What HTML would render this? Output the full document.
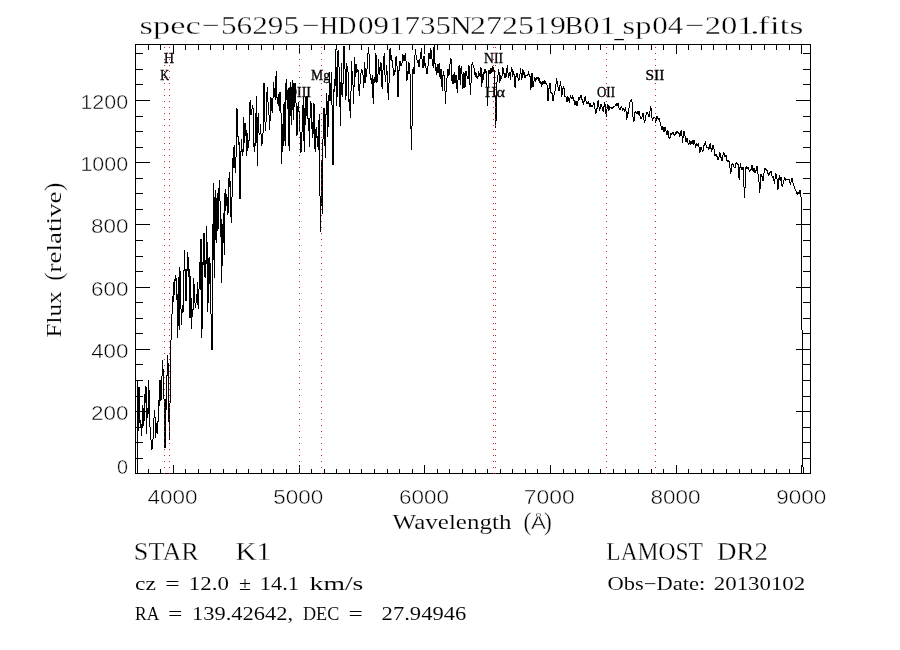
<!DOCTYPE html>
<html><head><meta charset="utf-8"><title>spec-56295-HD091735N272519B01_sp04-201.fits</title>
<style>html,body{margin:0;padding:0;background:#fff;}body{width:900px;height:650px;overflow:hidden;}svg{display:block;}text{font-family:"Liberation Serif",serif;fill:#000;stroke:#fff;stroke-width:0;paint-order:fill stroke;}.sans{font-family:"Liberation Sans",sans-serif;}</style></head><body>
<svg width="900" height="650" viewBox="0 0 900 650">
<rect x="0" y="0" width="900" height="650" fill="#fff"/>
<g fill="#000" shape-rendering="crispEdges">
<rect x="135" y="44" width="676" height="1"/>
<rect x="135" y="473" width="676" height="1"/>
<rect x="135" y="44" width="1" height="430"/>
<rect x="810" y="44" width="1" height="430"/>
<rect x="148" y="44" width="1" height="6"/>
<rect x="148" y="469" width="1" height="5"/>
<rect x="160" y="44" width="1" height="6"/>
<rect x="160" y="469" width="1" height="5"/>
<rect x="173" y="44" width="1" height="10"/>
<rect x="173" y="465" width="1" height="9"/>
<rect x="185" y="44" width="1" height="6"/>
<rect x="185" y="469" width="1" height="5"/>
<rect x="198" y="44" width="1" height="6"/>
<rect x="198" y="469" width="1" height="5"/>
<rect x="210" y="44" width="1" height="6"/>
<rect x="210" y="469" width="1" height="5"/>
<rect x="223" y="44" width="1" height="6"/>
<rect x="223" y="469" width="1" height="5"/>
<rect x="236" y="44" width="1" height="6"/>
<rect x="236" y="469" width="1" height="5"/>
<rect x="248" y="44" width="1" height="6"/>
<rect x="248" y="469" width="1" height="5"/>
<rect x="261" y="44" width="1" height="6"/>
<rect x="261" y="469" width="1" height="5"/>
<rect x="273" y="44" width="1" height="6"/>
<rect x="273" y="469" width="1" height="5"/>
<rect x="286" y="44" width="1" height="6"/>
<rect x="286" y="469" width="1" height="5"/>
<rect x="299" y="44" width="1" height="10"/>
<rect x="299" y="465" width="1" height="9"/>
<rect x="311" y="44" width="1" height="6"/>
<rect x="311" y="469" width="1" height="5"/>
<rect x="324" y="44" width="1" height="6"/>
<rect x="324" y="469" width="1" height="5"/>
<rect x="336" y="44" width="1" height="6"/>
<rect x="336" y="469" width="1" height="5"/>
<rect x="349" y="44" width="1" height="6"/>
<rect x="349" y="469" width="1" height="5"/>
<rect x="361" y="44" width="1" height="6"/>
<rect x="361" y="469" width="1" height="5"/>
<rect x="374" y="44" width="1" height="6"/>
<rect x="374" y="469" width="1" height="5"/>
<rect x="387" y="44" width="1" height="6"/>
<rect x="387" y="469" width="1" height="5"/>
<rect x="399" y="44" width="1" height="6"/>
<rect x="399" y="469" width="1" height="5"/>
<rect x="412" y="44" width="1" height="6"/>
<rect x="412" y="469" width="1" height="5"/>
<rect x="424" y="44" width="1" height="10"/>
<rect x="424" y="465" width="1" height="9"/>
<rect x="437" y="44" width="1" height="6"/>
<rect x="437" y="469" width="1" height="5"/>
<rect x="449" y="44" width="1" height="6"/>
<rect x="449" y="469" width="1" height="5"/>
<rect x="462" y="44" width="1" height="6"/>
<rect x="462" y="469" width="1" height="5"/>
<rect x="475" y="44" width="1" height="6"/>
<rect x="475" y="469" width="1" height="5"/>
<rect x="487" y="44" width="1" height="6"/>
<rect x="487" y="469" width="1" height="5"/>
<rect x="500" y="44" width="1" height="6"/>
<rect x="500" y="469" width="1" height="5"/>
<rect x="512" y="44" width="1" height="6"/>
<rect x="512" y="469" width="1" height="5"/>
<rect x="525" y="44" width="1" height="6"/>
<rect x="525" y="469" width="1" height="5"/>
<rect x="537" y="44" width="1" height="6"/>
<rect x="537" y="469" width="1" height="5"/>
<rect x="550" y="44" width="1" height="10"/>
<rect x="550" y="465" width="1" height="9"/>
<rect x="563" y="44" width="1" height="6"/>
<rect x="563" y="469" width="1" height="5"/>
<rect x="575" y="44" width="1" height="6"/>
<rect x="575" y="469" width="1" height="5"/>
<rect x="588" y="44" width="1" height="6"/>
<rect x="588" y="469" width="1" height="5"/>
<rect x="600" y="44" width="1" height="6"/>
<rect x="600" y="469" width="1" height="5"/>
<rect x="613" y="44" width="1" height="6"/>
<rect x="613" y="469" width="1" height="5"/>
<rect x="625" y="44" width="1" height="6"/>
<rect x="625" y="469" width="1" height="5"/>
<rect x="638" y="44" width="1" height="6"/>
<rect x="638" y="469" width="1" height="5"/>
<rect x="651" y="44" width="1" height="6"/>
<rect x="651" y="469" width="1" height="5"/>
<rect x="663" y="44" width="1" height="6"/>
<rect x="663" y="469" width="1" height="5"/>
<rect x="676" y="44" width="1" height="10"/>
<rect x="676" y="465" width="1" height="9"/>
<rect x="688" y="44" width="1" height="6"/>
<rect x="688" y="469" width="1" height="5"/>
<rect x="701" y="44" width="1" height="6"/>
<rect x="701" y="469" width="1" height="5"/>
<rect x="713" y="44" width="1" height="6"/>
<rect x="713" y="469" width="1" height="5"/>
<rect x="726" y="44" width="1" height="6"/>
<rect x="726" y="469" width="1" height="5"/>
<rect x="739" y="44" width="1" height="6"/>
<rect x="739" y="469" width="1" height="5"/>
<rect x="751" y="44" width="1" height="6"/>
<rect x="751" y="469" width="1" height="5"/>
<rect x="764" y="44" width="1" height="6"/>
<rect x="764" y="469" width="1" height="5"/>
<rect x="776" y="44" width="1" height="6"/>
<rect x="776" y="469" width="1" height="5"/>
<rect x="789" y="44" width="1" height="6"/>
<rect x="789" y="469" width="1" height="5"/>
<rect x="801" y="44" width="1" height="10"/>
<rect x="801" y="465" width="1" height="9"/>
<rect x="135" y="458" width="8" height="1"/>
<rect x="803" y="458" width="8" height="1"/>
<rect x="135" y="442" width="8" height="1"/>
<rect x="803" y="442" width="8" height="1"/>
<rect x="135" y="427" width="8" height="1"/>
<rect x="803" y="427" width="8" height="1"/>
<rect x="135" y="411" width="15" height="1"/>
<rect x="796" y="411" width="15" height="1"/>
<rect x="135" y="396" width="8" height="1"/>
<rect x="803" y="396" width="8" height="1"/>
<rect x="135" y="380" width="8" height="1"/>
<rect x="803" y="380" width="8" height="1"/>
<rect x="135" y="364" width="8" height="1"/>
<rect x="803" y="364" width="8" height="1"/>
<rect x="135" y="349" width="15" height="1"/>
<rect x="796" y="349" width="15" height="1"/>
<rect x="135" y="333" width="8" height="1"/>
<rect x="803" y="333" width="8" height="1"/>
<rect x="135" y="318" width="8" height="1"/>
<rect x="803" y="318" width="8" height="1"/>
<rect x="135" y="302" width="8" height="1"/>
<rect x="803" y="302" width="8" height="1"/>
<rect x="135" y="287" width="15" height="1"/>
<rect x="796" y="287" width="15" height="1"/>
<rect x="135" y="271" width="8" height="1"/>
<rect x="803" y="271" width="8" height="1"/>
<rect x="135" y="256" width="8" height="1"/>
<rect x="803" y="256" width="8" height="1"/>
<rect x="135" y="240" width="8" height="1"/>
<rect x="803" y="240" width="8" height="1"/>
<rect x="135" y="224" width="15" height="1"/>
<rect x="796" y="224" width="15" height="1"/>
<rect x="135" y="209" width="8" height="1"/>
<rect x="803" y="209" width="8" height="1"/>
<rect x="135" y="193" width="8" height="1"/>
<rect x="803" y="193" width="8" height="1"/>
<rect x="135" y="178" width="8" height="1"/>
<rect x="803" y="178" width="8" height="1"/>
<rect x="135" y="162" width="15" height="1"/>
<rect x="796" y="162" width="15" height="1"/>
<rect x="135" y="147" width="8" height="1"/>
<rect x="803" y="147" width="8" height="1"/>
<rect x="135" y="131" width="8" height="1"/>
<rect x="803" y="131" width="8" height="1"/>
<rect x="135" y="116" width="8" height="1"/>
<rect x="803" y="116" width="8" height="1"/>
<rect x="135" y="100" width="15" height="1"/>
<rect x="796" y="100" width="15" height="1"/>
<rect x="135" y="84" width="8" height="1"/>
<rect x="803" y="84" width="8" height="1"/>
<rect x="135" y="69" width="8" height="1"/>
<rect x="803" y="69" width="8" height="1"/>
<rect x="135" y="53" width="8" height="1"/>
<rect x="803" y="53" width="8" height="1"/>
</g>
<g opacity="0.999">
<text><tspan x="139.6" y="34" font-size="26" style="stroke-width:0.36px" textLength="61.11" lengthAdjust="spacingAndGlyphs">spec</tspan><tspan x="202.12" y="34" font-size="26" style="stroke-width:0.36px" textLength="17.86" lengthAdjust="spacingAndGlyphs">−</tspan><tspan x="220.91" y="34" font-size="26" style="stroke-width:0.36px" textLength="78.21" lengthAdjust="spacingAndGlyphs">56295</tspan><tspan x="302.12" y="34" font-size="26" style="stroke-width:0.36px" textLength="17.86" lengthAdjust="spacingAndGlyphs">−</tspan><tspan x="319.83" y="34" font-size="26" style="stroke-width:0.36px" textLength="36.51" lengthAdjust="spacingAndGlyphs">HD</tspan><tspan x="357.95" y="34" font-size="26" style="stroke-width:0.36px" textLength="93.12" lengthAdjust="spacingAndGlyphs">091735</tspan><tspan x="450.33" y="34" font-size="26" style="stroke-width:0.36px" textLength="21.33" lengthAdjust="spacingAndGlyphs">N</tspan><tspan x="470.0" y="34" font-size="26" style="stroke-width:0.36px" textLength="95.89" lengthAdjust="spacingAndGlyphs">272519</tspan><tspan x="564.5" y="34" font-size="26" style="stroke-width:0.36px" textLength="18.75" lengthAdjust="spacingAndGlyphs">B</tspan><tspan x="583.44" y="34" font-size="26" style="stroke-width:0.36px" textLength="31.94" lengthAdjust="spacingAndGlyphs">01</tspan><tspan x="614.4" y="36.6" font-size="26" style="stroke-width:0" textLength="9.22" lengthAdjust="spacingAndGlyphs">_</tspan><tspan x="622.6" y="34" font-size="26" style="stroke-width:0.36px" textLength="28.82" lengthAdjust="spacingAndGlyphs">sp</tspan><tspan x="652.15" y="34" font-size="26" style="stroke-width:0.36px" textLength="31.01" lengthAdjust="spacingAndGlyphs">04</tspan><tspan x="685.2" y="34" font-size="26" style="stroke-width:0.36px" textLength="19.38" lengthAdjust="spacingAndGlyphs">−</tspan><tspan x="704.66" y="34" font-size="26" style="stroke-width:0.36px" textLength="48.93" lengthAdjust="spacingAndGlyphs">201</tspan><tspan x="749.8" y="34" font-size="26" style="stroke-width:0.36px" textLength="10.12" lengthAdjust="spacingAndGlyphs">.</tspan><tspan x="757.78" y="34" font-size="26" style="stroke-width:0.36px" textLength="45.75" lengthAdjust="spacingAndGlyphs">fits</tspan></text>
<text><tspan x="133.88" y="560" font-size="24.2" style="stroke-width:0.29px" textLength="65.0" lengthAdjust="spacingAndGlyphs">STAR</tspan> <tspan x="235.45" y="560" font-size="24.2" style="stroke-width:0.29px" textLength="35.64" lengthAdjust="spacingAndGlyphs">K1</tspan></text>
<text><tspan x="606.35" y="560" font-size="24.2" style="stroke-width:0.29px" textLength="96.45" lengthAdjust="spacingAndGlyphs">LAMOST</tspan> <tspan x="717.03" y="560" font-size="24.2" style="stroke-width:0.29px" textLength="50.84" lengthAdjust="spacingAndGlyphs">DR2</tspan></text>
<text><tspan x="135.0" y="590" font-size="18.4" style="stroke-width:0.06px" textLength="20.91" lengthAdjust="spacingAndGlyphs">cz</tspan> <tspan x="165.2" y="590" font-size="18.4" style="stroke-width:0.06px" textLength="14.4" lengthAdjust="spacingAndGlyphs">=</tspan> <tspan x="188.83" y="590" font-size="18.4" style="stroke-width:0.06px" textLength="40.08" lengthAdjust="spacingAndGlyphs">12.0</tspan> <tspan x="239.0" y="590" font-size="18.4" style="stroke-width:0.06px" textLength="12.0" lengthAdjust="spacingAndGlyphs">±</tspan> <tspan x="259.79" y="590" font-size="18.4" style="stroke-width:0.06px" textLength="39.16" lengthAdjust="spacingAndGlyphs">14.1</tspan> <tspan x="309.6" y="590" font-size="18.4" style="stroke-width:0.06px" textLength="53.77" lengthAdjust="spacingAndGlyphs">km/s</tspan></text>
<text><tspan x="607.4" y="590" font-size="18.4" style="stroke-width:0.06px" textLength="97.89" lengthAdjust="spacingAndGlyphs">Obs−Date:</tspan> <tspan x="713.8" y="590" font-size="18.4" style="stroke-width:0.06px" textLength="91.43" lengthAdjust="spacingAndGlyphs">20130102</tspan></text>
<text><tspan x="135.0" y="620" font-size="18.4" style="stroke-width:0.06px" textLength="24.24" lengthAdjust="spacingAndGlyphs">RA</tspan> <tspan x="168.0" y="620" font-size="18.4" style="stroke-width:0.06px" textLength="14.4" lengthAdjust="spacingAndGlyphs">=</tspan> <tspan x="191.94" y="620" font-size="18.4" style="stroke-width:0.06px" textLength="101.13" lengthAdjust="spacingAndGlyphs">139.42642,</tspan> <tspan x="303.0" y="620" font-size="18.4" style="stroke-width:0.06px" textLength="36.33" lengthAdjust="spacingAndGlyphs">DEC</tspan> <tspan x="348.6" y="620" font-size="18.4" style="stroke-width:0.06px" textLength="14.4" lengthAdjust="spacingAndGlyphs">=</tspan> <tspan x="381.6" y="620" font-size="18.4" style="stroke-width:0.06px" textLength="84.82" lengthAdjust="spacingAndGlyphs">27.94946</tspan></text>
<text><tspan x="392.6" y="529.4" font-size="20.5" style="stroke-width:0.14px" textLength="118.82" lengthAdjust="spacingAndGlyphs">Wavelength</tspan> <tspan x="523.4" y="530.2" font-size="25" style="stroke-width:0.32px" textLength="7.84" lengthAdjust="spacingAndGlyphs">(</tspan><tspan x="531.0" y="529.4" font-size="19" class="sans" style="stroke-width:0.45px" textLength="14.86" lengthAdjust="spacingAndGlyphs">Å</tspan><tspan x="544.0" y="530.2" font-size="25" style="stroke-width:0.32px" textLength="7.84" lengthAdjust="spacingAndGlyphs">)</tspan></text>
<text><tspan x="164.0" y="62.8" font-size="15.5" style="stroke:#000;stroke-width:0.35px" textLength="10.0" lengthAdjust="spacingAndGlyphs">H</tspan></text>
<text><tspan x="160.13" y="80" font-size="15.5" style="stroke:#000;stroke-width:0.35px" textLength="8.96" lengthAdjust="spacingAndGlyphs">K</tspan></text>
<text><tspan x="287.0" y="96.7" font-size="15" style="stroke:#000;stroke-width:0.35px" textLength="24.0" lengthAdjust="spacingAndGlyphs">OIII</tspan></text>
<text><tspan x="311.0" y="79.7" font-size="15" style="stroke:#000;stroke-width:0.35px" textLength="19.0" lengthAdjust="spacingAndGlyphs">Mg</tspan></text>
<text><tspan x="484.0" y="63" font-size="15.5" style="stroke:#000;stroke-width:0.35px" textLength="19.0" lengthAdjust="spacingAndGlyphs">NII</tspan></text>
<text><tspan x="484.94" y="97" font-size="15" style="stroke:#000;stroke-width:0.35px" textLength="20.04" lengthAdjust="spacingAndGlyphs">Hα</tspan></text>
<text><tspan x="597.0" y="97" font-size="15" style="stroke:#000;stroke-width:0.35px" textLength="18.0" lengthAdjust="spacingAndGlyphs">OII</tspan></text>
<text><tspan x="645.5" y="80" font-size="15" style="stroke:#000;stroke-width:0.35px" textLength="18.96" lengthAdjust="spacingAndGlyphs">SII</tspan></text>
<text><tspan x="116.9" y="473.5" font-size="19.5" class="sans" style="stroke-width:0.45px" textLength="11.05" lengthAdjust="spacingAndGlyphs">0</tspan></text>
<text><tspan x="91.07" y="420.1" font-size="19.5" class="sans" style="stroke-width:0.45px" textLength="37.4" lengthAdjust="spacingAndGlyphs">200</tspan></text>
<text><tspan x="91.2" y="357.8" font-size="19.5" class="sans" style="stroke-width:0.45px" textLength="37.27" lengthAdjust="spacingAndGlyphs">400</tspan></text>
<text><tspan x="91.07" y="295.6" font-size="19.5" class="sans" style="stroke-width:0.45px" textLength="37.4" lengthAdjust="spacingAndGlyphs">600</tspan></text>
<text><tspan x="91.07" y="233.3" font-size="19.5" class="sans" style="stroke-width:0.45px" textLength="37.4" lengthAdjust="spacingAndGlyphs">800</tspan></text>
<text><tspan x="80.42" y="171.0" font-size="19.5" class="sans" style="stroke-width:0.45px" textLength="47.68" lengthAdjust="spacingAndGlyphs">1000</tspan></text>
<text><tspan x="80.42" y="108.7" font-size="19.5" class="sans" style="stroke-width:0.45px" textLength="47.68" lengthAdjust="spacingAndGlyphs">1200</tspan></text>
<text><tspan x="147.62" y="503.8" font-size="19.5" class="sans" style="stroke-width:0.45px" textLength="49.98" lengthAdjust="spacingAndGlyphs">4000</tspan></text>
<text><tspan x="273.27" y="503.8" font-size="19.5" class="sans" style="stroke-width:0.45px" textLength="50.08" lengthAdjust="spacingAndGlyphs">5000</tspan></text>
<text><tspan x="399.0" y="503.8" font-size="19.5" class="sans" style="stroke-width:0.45px" textLength="50.08" lengthAdjust="spacingAndGlyphs">6000</tspan></text>
<text><tspan x="523.81" y="503.8" font-size="19.5" class="sans" style="stroke-width:0.45px" textLength="51.03" lengthAdjust="spacingAndGlyphs">7000</tspan></text>
<text><tspan x="650.46" y="503.8" font-size="19.5" class="sans" style="stroke-width:0.45px" textLength="50.08" lengthAdjust="spacingAndGlyphs">8000</tspan></text>
<text><tspan x="776.19" y="503.8" font-size="19.5" class="sans" style="stroke-width:0.45px" textLength="50.08" lengthAdjust="spacingAndGlyphs">9000</tspan></text>
<g transform="translate(61,338) rotate(-90)">
<text><tspan x="0.5" y="0" font-size="20.5" style="stroke-width:0.14px" textLength="46" lengthAdjust="spacingAndGlyphs">Flux</tspan> <tspan x="57.2" y="1" font-size="25" style="stroke-width:0.32px" textLength="8.4" lengthAdjust="spacingAndGlyphs">(</tspan><tspan x="65.5" y="0" font-size="20.5" style="stroke-width:0.14px" textLength="81" lengthAdjust="spacingAndGlyphs">relative</tspan><tspan x="147" y="1" font-size="25" style="stroke-width:0.32px" textLength="8.4" lengthAdjust="spacingAndGlyphs">)</tspan></text>
</g>
</g>
<path fill="#000" shape-rendering="crispEdges" d="M137 381h1v92h-1zM138 387h1v44h-1zM139 387h1v36h-1zM140 420h1v8h-1zM141 424h1v12h-1zM142 405h1v23h-1zM143 408h1v18h-1zM144 394h1v27h-1zM145 386h1v17h-1zM146 387h1v47h-1zM147 408h1v10h-1zM148 380h1v34h-1zM149 390h1v37h-1zM150 427h1v13h-1zM151 440h1v10h-1zM152 439h1v10h-1zM153 418h1v21h-1zM154 410h1v8h-1zM155 417h1v21h-1zM156 423h1v10h-1zM157 421h1v13h-1zM158 400h1v22h-1zM159 380h1v26h-1zM160 380h1v21h-1zM161 376h1v24h-1zM162 360h1v16h-1zM163 369h1v30h-1zM164 399h1v49h-1zM165 399h1v49h-1zM166 375h1v35h-1zM167 355h1v21h-1zM168 363h1v59h-1zM169 403h1v37h-1zM170 340h1v63h-1zM171 314h1v26h-1zM172 296h1v18h-1zM173 282h1v20h-1zM174 279h1v16h-1zM175 275h1v6h-1zM176 278h1v22h-1zM177 294h1v44h-1zM178 277h1v49h-1zM179 267h1v63h-1zM180 271h1v38h-1zM181 309h1v16h-1zM182 305h1v8h-1zM183 270h1v42h-1zM184 250h1v21h-1zM185 269h1v32h-1zM186 269h1v32h-1zM187 252h1v19h-1zM188 257h1v20h-1zM189 269h1v49h-1zM190 276h1v42h-1zM191 298h1v31h-1zM192 309h1v8h-1zM193 278h1v32h-1zM194 284h1v19h-1zM195 303h1v5h-1zM196 294h1v9h-1zM197 282h1v23h-1zM198 289h1v20h-1zM199 262h1v27h-1zM200 239h1v51h-1zM201 239h1v99h-1zM202 262h1v67h-1zM203 233h1v32h-1zM204 233h1v44h-1zM205 260h1v18h-1zM206 226h1v38h-1zM207 242h1v70h-1zM208 258h1v45h-1zM209 257h1v27h-1zM210 263h1v51h-1zM211 314h1v36h-1zM212 224h1v126h-1zM213 183h1v77h-1zM214 197h1v81h-1zM215 190h1v50h-1zM216 198h1v45h-1zM217 193h1v38h-1zM218 188h1v41h-1zM219 180h1v21h-1zM220 201h1v36h-1zM221 219h1v64h-1zM222 224h1v42h-1zM223 213h1v30h-1zM224 193h1v62h-1zM225 189h1v22h-1zM226 194h1v12h-1zM227 197h1v18h-1zM228 178h1v35h-1zM229 172h1v15h-1zM230 181h1v36h-1zM231 197h1v26h-1zM232 158h1v39h-1zM233 147h1v21h-1zM234 145h1v23h-1zM235 157h1v16h-1zM236 108h1v49h-1zM237 109h1v28h-1zM238 136h1v9h-1zM239 142h1v57h-1zM240 151h1v48h-1zM241 139h1v13h-1zM242 149h1v7h-1zM243 117h1v35h-1zM244 123h1v20h-1zM245 123h1v13h-1zM246 130h1v26h-1zM247 133h1v18h-1zM248 140h1v8h-1zM249 102h1v39h-1zM250 100h1v15h-1zM251 109h1v6h-1zM252 105h1v4h-1zM253 108h1v39h-1zM254 143h1v9h-1zM255 113h1v33h-1zM256 96h1v47h-1zM257 117h1v49h-1zM258 113h1v20h-1zM259 133h1v2h-1zM260 124h1v10h-1zM261 134h1v12h-1zM262 133h1v11h-1zM263 83h1v50h-1zM264 83h1v39h-1zM265 122h1v9h-1zM266 92h1v30h-1zM267 87h1v15h-1zM268 102h1v13h-1zM269 115h1v15h-1zM270 97h1v24h-1zM271 98h1v13h-1zM272 98h1v15h-1zM273 82h1v16h-1zM274 88h1v9h-1zM275 76h1v24h-1zM276 71h1v27h-1zM277 97h1v7h-1zM278 94h1v12h-1zM279 92h1v19h-1zM280 92h1v21h-1zM281 113h1v51h-1zM282 124h1v28h-1zM283 104h1v42h-1zM284 102h1v39h-1zM285 83h1v63h-1zM286 79h1v21h-1zM287 90h1v19h-1zM288 88h1v58h-1zM289 88h1v63h-1zM290 82h1v34h-1zM291 87h1v38h-1zM292 80h1v30h-1zM293 83h1v37h-1zM294 83h1v24h-1zM295 83h1v20h-1zM296 103h1v33h-1zM297 106h1v29h-1zM298 102h1v10h-1zM299 111h1v21h-1zM300 132h1v21h-1zM301 132h1v20h-1zM302 105h1v27h-1zM303 97h1v44h-1zM304 108h1v44h-1zM305 97h1v28h-1zM306 96h1v20h-1zM307 96h1v23h-1zM308 118h1v13h-1zM309 118h1v29h-1zM310 101h1v17h-1zM311 103h1v26h-1zM312 122h1v16h-1zM313 103h1v31h-1zM314 104h1v45h-1zM315 129h1v23h-1zM316 127h1v11h-1zM317 136h1v11h-1zM318 120h1v30h-1zM319 114h1v82h-1zM320 196h1v36h-1zM321 160h1v46h-1zM322 139h1v75h-1zM323 108h1v31h-1zM324 108h1v38h-1zM325 114h1v44h-1zM326 93h1v22h-1zM327 101h1v36h-1zM328 95h1v32h-1zM329 72h1v29h-1zM330 83h1v18h-1zM331 72h1v33h-1zM332 105h1v60h-1zM333 89h1v76h-1zM334 79h1v13h-1zM335 49h1v37h-1zM336 67h1v39h-1zM337 51h1v46h-1zM338 50h1v17h-1zM339 67h1v40h-1zM340 82h1v44h-1zM341 63h1v32h-1zM342 83h1v14h-1zM343 46h1v38h-1zM344 46h1v23h-1zM345 69h1v31h-1zM346 63h1v33h-1zM347 66h1v6h-1zM348 72h1v30h-1zM349 99h1v12h-1zM350 91h1v27h-1zM351 61h1v30h-1zM352 71h1v14h-1zM353 85h1v19h-1zM354 57h1v30h-1zM355 64h1v13h-1zM356 64h1v9h-1zM357 69h1v3h-1zM358 70h1v21h-1zM359 84h1v12h-1zM360 73h1v11h-1zM361 69h1v4h-1zM362 70h1v5h-1zM363 75h1v13h-1zM364 62h1v21h-1zM365 68h1v15h-1zM366 69h1v8h-1zM367 53h1v16h-1zM368 47h1v7h-1zM369 54h1v20h-1zM370 74h1v6h-1zM371 78h1v6h-1zM372 75h1v23h-1zM373 79h1v25h-1zM374 77h1v6h-1zM375 53h1v29h-1zM376 55h1v28h-1zM377 74h1v8h-1zM378 59h1v15h-1zM379 67h1v8h-1zM380 62h1v9h-1zM381 63h1v24h-1zM382 70h1v19h-1zM383 56h1v14h-1zM384 53h1v22h-1zM385 75h1v7h-1zM386 65h1v10h-1zM387 71h1v22h-1zM388 83h1v17h-1zM389 49h1v34h-1zM390 48h1v12h-1zM391 55h1v6h-1zM392 60h1v8h-1zM393 68h1v8h-1zM394 70h1v5h-1zM395 57h1v15h-1zM396 56h1v10h-1zM397 66h1v31h-1zM398 70h1v27h-1zM399 61h1v10h-1zM400 61h1v5h-1zM401 63h1v3h-1zM402 54h1v9h-1zM403 55h1v6h-1zM404 55h1v6h-1zM405 53h1v8h-1zM406 61h1v20h-1zM407 71h1v9h-1zM408 62h1v12h-1zM409 63h1v11h-1zM410 74h1v55h-1zM411 126h1v24h-1zM412 69h1v57h-1zM413 67h1v7h-1zM414 55h1v19h-1zM415 49h1v6h-1zM416 55h1v5h-1zM417 60h1v3h-1zM418 60h1v7h-1zM419 59h1v8h-1zM420 52h1v7h-1zM421 48h1v11h-1zM422 59h1v9h-1zM423 56h1v12h-1zM424 56h1v10h-1zM425 63h1v5h-1zM426 68h1v6h-1zM427 66h1v8h-1zM428 53h1v13h-1zM429 53h1v6h-1zM430 48h1v11h-1zM431 50h1v9h-1zM432 59h1v7h-1zM433 47h1v21h-1zM434 44h1v20h-1zM435 63h1v8h-1zM436 67h1v8h-1zM437 64h1v9h-1zM438 64h1v9h-1zM439 63h1v14h-1zM440 69h1v10h-1zM441 69h1v18h-1zM442 75h1v16h-1zM443 71h1v5h-1zM444 75h1v16h-1zM445 91h1v13h-1zM446 78h1v14h-1zM447 69h1v9h-1zM448 69h1v7h-1zM449 64h1v11h-1zM450 58h1v6h-1zM451 59h1v22h-1zM452 75h1v9h-1zM453 74h1v10h-1zM454 72h1v11h-1zM455 75h1v8h-1zM456 75h1v14h-1zM457 80h1v13h-1zM458 66h1v14h-1zM459 65h1v15h-1zM460 68h1v17h-1zM461 66h1v8h-1zM462 74h1v15h-1zM463 72h1v16h-1zM464 73h1v15h-1zM465 71h1v16h-1zM466 71h1v5h-1zM467 76h1v3h-1zM468 65h1v14h-1zM469 66h1v19h-1zM470 83h1v12h-1zM471 64h1v19h-1zM472 62h1v3h-1zM473 65h1v3h-1zM474 68h1v7h-1zM475 72h1v5h-1zM476 73h1v5h-1zM477 76h1v3h-1zM478 71h1v6h-1zM479 73h1v3h-1zM480 67h1v10h-1zM481 68h1v19h-1zM482 74h1v9h-1zM483 72h1v8h-1zM484 69h1v5h-1zM485 69h1v4h-1zM486 71h1v16h-1zM487 87h1v19h-1zM488 70h1v17h-1zM489 70h1v4h-1zM490 68h1v6h-1zM491 68h1v5h-1zM492 66h1v6h-1zM493 67h1v4h-1zM494 70h1v26h-1zM495 96h1v32h-1zM496 82h1v39h-1zM497 75h1v7h-1zM498 69h1v6h-1zM499 72h1v11h-1zM500 75h1v6h-1zM501 76h1v3h-1zM502 67h1v9h-1zM503 68h1v6h-1zM504 73h1v5h-1zM505 73h1v5h-1zM506 68h1v9h-1zM507 65h1v8h-1zM508 73h1v5h-1zM509 72h1v4h-1zM510 72h1v8h-1zM511 67h1v5h-1zM512 69h1v8h-1zM513 71h1v4h-1zM514 74h1v13h-1zM515 76h1v12h-1zM516 73h1v4h-1zM517 73h1v5h-1zM518 78h1v3h-1zM519 74h1v6h-1zM520 68h1v6h-1zM521 73h1v7h-1zM522 69h1v9h-1zM523 70h1v5h-1zM524 72h1v6h-1zM525 75h1v3h-1zM526 75h1v1h-1zM527 74h1v2h-1zM528 71h1v4h-1zM529 74h1v3h-1zM530 76h1v14h-1zM531 73h1v15h-1zM532 73h1v14h-1zM533 81h1v6h-1zM534 77h1v4h-1zM535 78h1v4h-1zM536 77h1v3h-1zM537 77h1v2h-1zM538 77h1v4h-1zM539 78h1v5h-1zM540 81h1v3h-1zM541 82h1v5h-1zM542 81h1v4h-1zM543 81h1v3h-1zM544 80h1v4h-1zM545 81h1v3h-1zM546 83h1v2h-1zM547 85h1v16h-1zM548 88h1v13h-1zM549 83h1v6h-1zM550 83h1v10h-1zM551 92h1v2h-1zM552 93h1v8h-1zM553 95h1v6h-1zM554 91h1v4h-1zM555 84h1v7h-1zM556 78h1v6h-1zM557 81h1v6h-1zM558 87h1v4h-1zM559 85h1v6h-1zM560 81h1v5h-1zM561 86h1v11h-1zM562 88h1v7h-1zM563 86h1v3h-1zM564 88h1v9h-1zM565 96h1v1h-1zM566 97h1v5h-1zM567 96h1v6h-1zM568 97h1v4h-1zM569 98h1v5h-1zM570 95h1v3h-1zM571 97h1v2h-1zM572 95h1v4h-1zM573 97h1v4h-1zM574 100h1v5h-1zM575 101h1v4h-1zM576 101h1v5h-1zM577 101h1v5h-1zM578 97h1v4h-1zM579 97h1v3h-1zM580 95h1v3h-1zM581 95h1v5h-1zM582 99h1v4h-1zM583 101h1v4h-1zM584 97h1v5h-1zM585 96h1v5h-1zM586 101h1v3h-1zM587 102h1v2h-1zM588 101h1v3h-1zM589 103h1v4h-1zM590 103h1v4h-1zM591 105h1v2h-1zM592 105h1v2h-1zM593 102h1v3h-1zM594 103h1v6h-1zM595 109h1v5h-1zM596 108h1v5h-1zM597 101h1v8h-1zM598 100h1v7h-1zM599 107h1v4h-1zM600 104h1v5h-1zM601 104h1v3h-1zM602 107h1v4h-1zM603 106h1v6h-1zM604 102h1v5h-1zM605 104h1v10h-1zM606 109h1v8h-1zM607 104h1v5h-1zM608 105h1v6h-1zM609 106h1v4h-1zM610 107h1v1h-1zM611 107h1v2h-1zM612 107h1v2h-1zM613 106h1v2h-1zM614 106h1v1h-1zM615 104h1v2h-1zM616 103h1v3h-1zM617 103h1v3h-1zM618 103h1v5h-1zM619 108h1v2h-1zM620 107h1v3h-1zM621 106h1v2h-1zM622 108h1v3h-1zM623 108h1v2h-1zM624 109h1v3h-1zM625 107h1v4h-1zM626 111h1v9h-1zM627 112h1v6h-1zM628 108h1v6h-1zM629 102h1v6h-1zM630 100h1v2h-1zM631 99h1v3h-1zM632 102h1v15h-1zM633 117h1v5h-1zM634 112h1v9h-1zM635 111h1v2h-1zM636 112h1v2h-1zM637 111h1v3h-1zM638 111h1v4h-1zM639 111h1v5h-1zM640 116h1v3h-1zM641 117h1v2h-1zM642 113h1v4h-1zM643 113h1v7h-1zM644 120h1v3h-1zM645 115h1v6h-1zM646 112h1v3h-1zM647 112h1v2h-1zM648 114h1v3h-1zM649 111h1v6h-1zM650 106h1v5h-1zM651 108h1v10h-1zM652 118h1v3h-1zM653 117h1v2h-1zM654 117h1v1h-1zM655 118h1v5h-1zM656 116h1v5h-1zM657 116h1v3h-1zM658 118h1v2h-1zM659 118h1v4h-1zM660 122h1v4h-1zM661 126h1v4h-1zM662 126h1v4h-1zM663 127h1v5h-1zM664 127h1v5h-1zM665 127h1v4h-1zM666 131h1v4h-1zM667 130h1v5h-1zM668 131h1v7h-1zM669 137h1v2h-1zM670 133h1v5h-1zM671 133h1v2h-1zM672 132h1v2h-1zM673 132h1v3h-1zM674 134h1v2h-1zM675 132h1v3h-1zM676 131h1v3h-1zM677 131h1v2h-1zM678 132h1v2h-1zM679 133h1v4h-1zM680 131h1v5h-1zM681 130h1v6h-1zM682 136h1v7h-1zM683 131h1v7h-1zM684 131h1v5h-1zM685 136h1v6h-1zM686 138h1v4h-1zM687 138h1v5h-1zM688 143h1v2h-1zM689 140h1v4h-1zM690 141h1v4h-1zM691 141h1v3h-1zM692 140h1v4h-1zM693 140h1v5h-1zM694 140h1v4h-1zM695 144h1v4h-1zM696 143h1v3h-1zM697 144h1v2h-1zM698 143h1v4h-1zM699 147h1v6h-1zM700 147h1v5h-1zM701 147h1v3h-1zM702 150h1v2h-1zM703 145h1v6h-1zM704 143h1v3h-1zM705 141h1v4h-1zM706 145h1v3h-1zM707 147h1v1h-1zM708 147h1v3h-1zM709 144h1v5h-1zM710 143h1v6h-1zM711 148h1v4h-1zM712 145h1v5h-1zM713 145h1v4h-1zM714 149h1v7h-1zM715 154h1v2h-1zM716 154h1v3h-1zM717 156h1v4h-1zM718 157h1v3h-1zM719 152h1v5h-1zM720 153h1v5h-1zM721 157h1v4h-1zM722 155h1v6h-1zM723 152h1v3h-1zM724 153h1v4h-1zM725 155h1v2h-1zM726 155h1v6h-1zM727 160h1v2h-1zM728 160h1v2h-1zM729 161h1v7h-1zM730 168h1v6h-1zM731 164h1v8h-1zM732 163h1v2h-1zM733 164h1v3h-1zM734 167h1v1h-1zM735 163h1v5h-1zM736 162h1v2h-1zM737 163h1v2h-1zM738 164h1v14h-1zM739 167h1v13h-1zM740 163h1v5h-1zM741 167h1v3h-1zM742 167h1v3h-1zM743 167h1v20h-1zM744 187h1v11h-1zM745 167h1v21h-1zM746 166h1v3h-1zM747 167h1v2h-1zM748 167h1v3h-1zM749 170h1v2h-1zM750 169h1v2h-1zM751 165h1v5h-1zM752 165h1v6h-1zM753 168h1v4h-1zM754 168h1v5h-1zM755 170h1v3h-1zM756 166h1v5h-1zM757 166h1v8h-1zM758 174h1v8h-1zM759 182h1v11h-1zM760 174h1v15h-1zM761 174h1v3h-1zM762 176h1v5h-1zM763 173h1v8h-1zM764 168h1v5h-1zM765 168h1v2h-1zM766 169h1v2h-1zM767 170h1v4h-1zM768 173h1v3h-1zM769 172h1v3h-1zM770 171h1v2h-1zM771 171h1v5h-1zM772 176h1v2h-1zM773 176h1v5h-1zM774 179h1v5h-1zM775 173h1v6h-1zM776 174h1v5h-1zM777 179h1v11h-1zM778 178h1v11h-1zM779 175h1v5h-1zM780 177h1v4h-1zM781 177h1v9h-1zM782 184h1v3h-1zM783 180h1v4h-1zM784 177h1v3h-1zM785 178h1v3h-1zM786 179h1v1h-1zM787 179h1v1h-1zM788 179h1v1h-1zM789 179h1v4h-1zM790 182h1v3h-1zM791 178h1v4h-1zM792 178h1v5h-1zM793 183h1v3h-1zM794 186h1v3h-1zM795 189h1v2h-1zM796 191h1v3h-1zM797 192h1v3h-1zM798 192h1v2h-1zM799 190h1v4h-1zM800 190h1v7h-1zM801 197h1v133h-1zM802 330h1v137h-1zM803 467h1v6h-1z"/>
<g fill="#c02a2a" shape-rendering="crispEdges">
<path d="M164 47h1v1h-1zM164 53h1v1h-1zM164 59h1v1h-1zM164 65h1v1h-1zM164 71h1v1h-1zM164 77h1v1h-1zM164 83h1v1h-1zM164 89h1v1h-1zM164 95h1v1h-1zM164 101h1v1h-1zM164 107h1v1h-1zM164 113h1v1h-1zM164 119h1v1h-1zM164 125h1v1h-1zM164 131h1v1h-1zM164 137h1v1h-1zM164 143h1v1h-1zM164 149h1v1h-1zM164 155h1v1h-1zM164 161h1v1h-1zM164 167h1v1h-1zM164 173h1v1h-1zM164 179h1v1h-1zM164 185h1v1h-1zM164 191h1v1h-1zM164 197h1v1h-1zM164 203h1v1h-1zM164 209h1v1h-1zM164 215h1v1h-1zM164 221h1v1h-1zM164 227h1v1h-1zM164 233h1v1h-1zM164 239h1v1h-1zM164 245h1v1h-1zM164 251h1v1h-1zM164 257h1v1h-1zM164 263h1v1h-1zM164 269h1v1h-1zM164 275h1v1h-1zM164 281h1v1h-1zM164 287h1v1h-1zM164 293h1v1h-1zM164 299h1v1h-1zM164 305h1v1h-1zM164 311h1v1h-1zM164 317h1v1h-1zM164 323h1v1h-1zM164 329h1v1h-1zM164 335h1v1h-1zM164 341h1v1h-1zM164 347h1v1h-1zM164 353h1v1h-1zM164 359h1v1h-1zM164 365h1v1h-1zM164 371h1v1h-1zM164 377h1v1h-1zM164 383h1v1h-1zM164 389h1v1h-1zM164 395h1v1h-1zM164 401h1v1h-1zM164 407h1v1h-1zM164 413h1v1h-1zM164 419h1v1h-1zM164 425h1v1h-1zM164 431h1v1h-1zM164 437h1v1h-1zM164 443h1v1h-1zM164 449h1v1h-1zM164 455h1v1h-1zM164 461h1v1h-1zM164 467h1v1h-1zM164 473h1v1h-1z"/>
<path d="M169 47h1v1h-1zM169 53h1v1h-1zM169 59h1v1h-1zM169 65h1v1h-1zM169 71h1v1h-1zM169 77h1v1h-1zM169 83h1v1h-1zM169 89h1v1h-1zM169 95h1v1h-1zM169 101h1v1h-1zM169 107h1v1h-1zM169 113h1v1h-1zM169 119h1v1h-1zM169 125h1v1h-1zM169 131h1v1h-1zM169 137h1v1h-1zM169 143h1v1h-1zM169 149h1v1h-1zM169 155h1v1h-1zM169 161h1v1h-1zM169 167h1v1h-1zM169 173h1v1h-1zM169 179h1v1h-1zM169 185h1v1h-1zM169 191h1v1h-1zM169 197h1v1h-1zM169 203h1v1h-1zM169 209h1v1h-1zM169 215h1v1h-1zM169 221h1v1h-1zM169 227h1v1h-1zM169 233h1v1h-1zM169 239h1v1h-1zM169 245h1v1h-1zM169 251h1v1h-1zM169 257h1v1h-1zM169 263h1v1h-1zM169 269h1v1h-1zM169 275h1v1h-1zM169 281h1v1h-1zM169 287h1v1h-1zM169 293h1v1h-1zM169 299h1v1h-1zM169 305h1v1h-1zM169 311h1v1h-1zM169 317h1v1h-1zM169 323h1v1h-1zM169 329h1v1h-1zM169 335h1v1h-1zM169 341h1v1h-1zM169 347h1v1h-1zM169 353h1v1h-1zM169 359h1v1h-1zM169 365h1v1h-1zM169 371h1v1h-1zM169 377h1v1h-1zM169 383h1v1h-1zM169 389h1v1h-1zM169 395h1v1h-1zM169 401h1v1h-1zM169 407h1v1h-1zM169 413h1v1h-1zM169 419h1v1h-1zM169 425h1v1h-1zM169 431h1v1h-1zM169 437h1v1h-1zM169 443h1v1h-1zM169 449h1v1h-1zM169 455h1v1h-1zM169 461h1v1h-1zM169 467h1v1h-1zM169 473h1v1h-1z"/>
<path d="M299 47h1v1h-1zM299 53h1v1h-1zM299 59h1v1h-1zM299 65h1v1h-1zM299 71h1v1h-1zM299 77h1v1h-1zM299 83h1v1h-1zM299 89h1v1h-1zM299 95h1v1h-1zM299 101h1v1h-1zM299 107h1v1h-1zM299 113h1v1h-1zM299 119h1v1h-1zM299 125h1v1h-1zM299 131h1v1h-1zM299 137h1v1h-1zM299 143h1v1h-1zM299 149h1v1h-1zM299 155h1v1h-1zM299 161h1v1h-1zM299 167h1v1h-1zM299 173h1v1h-1zM299 179h1v1h-1zM299 185h1v1h-1zM299 191h1v1h-1zM299 197h1v1h-1zM299 203h1v1h-1zM299 209h1v1h-1zM299 215h1v1h-1zM299 221h1v1h-1zM299 227h1v1h-1zM299 233h1v1h-1zM299 239h1v1h-1zM299 245h1v1h-1zM299 251h1v1h-1zM299 257h1v1h-1zM299 263h1v1h-1zM299 269h1v1h-1zM299 275h1v1h-1zM299 281h1v1h-1zM299 287h1v1h-1zM299 293h1v1h-1zM299 299h1v1h-1zM299 305h1v1h-1zM299 311h1v1h-1zM299 317h1v1h-1zM299 323h1v1h-1zM299 329h1v1h-1zM299 335h1v1h-1zM299 341h1v1h-1zM299 347h1v1h-1zM299 353h1v1h-1zM299 359h1v1h-1zM299 365h1v1h-1zM299 371h1v1h-1zM299 377h1v1h-1zM299 383h1v1h-1zM299 389h1v1h-1zM299 395h1v1h-1zM299 401h1v1h-1zM299 407h1v1h-1zM299 413h1v1h-1zM299 419h1v1h-1zM299 425h1v1h-1zM299 431h1v1h-1zM299 437h1v1h-1zM299 443h1v1h-1zM299 449h1v1h-1zM299 455h1v1h-1zM299 461h1v1h-1zM299 467h1v1h-1zM299 473h1v1h-1z"/>
<path d="M321 47h1v1h-1zM321 53h1v1h-1zM321 59h1v1h-1zM321 65h1v1h-1zM321 71h1v1h-1zM321 77h1v1h-1zM321 83h1v1h-1zM321 89h1v1h-1zM321 95h1v1h-1zM321 101h1v1h-1zM321 107h1v1h-1zM321 113h1v1h-1zM321 119h1v1h-1zM321 125h1v1h-1zM321 131h1v1h-1zM321 137h1v1h-1zM321 143h1v1h-1zM321 149h1v1h-1zM321 155h1v1h-1zM321 161h1v1h-1zM321 167h1v1h-1zM321 173h1v1h-1zM321 179h1v1h-1zM321 185h1v1h-1zM321 191h1v1h-1zM321 197h1v1h-1zM321 203h1v1h-1zM321 209h1v1h-1zM321 215h1v1h-1zM321 221h1v1h-1zM321 227h1v1h-1zM321 233h1v1h-1zM321 239h1v1h-1zM321 245h1v1h-1zM321 251h1v1h-1zM321 257h1v1h-1zM321 263h1v1h-1zM321 269h1v1h-1zM321 275h1v1h-1zM321 281h1v1h-1zM321 287h1v1h-1zM321 293h1v1h-1zM321 299h1v1h-1zM321 305h1v1h-1zM321 311h1v1h-1zM321 317h1v1h-1zM321 323h1v1h-1zM321 329h1v1h-1zM321 335h1v1h-1zM321 341h1v1h-1zM321 347h1v1h-1zM321 353h1v1h-1zM321 359h1v1h-1zM321 365h1v1h-1zM321 371h1v1h-1zM321 377h1v1h-1zM321 383h1v1h-1zM321 389h1v1h-1zM321 395h1v1h-1zM321 401h1v1h-1zM321 407h1v1h-1zM321 413h1v1h-1zM321 419h1v1h-1zM321 425h1v1h-1zM321 431h1v1h-1zM321 437h1v1h-1zM321 443h1v1h-1zM321 449h1v1h-1zM321 455h1v1h-1zM321 461h1v1h-1zM321 467h1v1h-1zM321 473h1v1h-1z"/>
<path d="M493 47h1v1h-1zM493 53h1v1h-1zM493 59h1v1h-1zM493 65h1v1h-1zM493 71h1v1h-1zM493 77h1v1h-1zM493 83h1v1h-1zM493 89h1v1h-1zM493 95h1v1h-1zM493 101h1v1h-1zM493 107h1v1h-1zM493 113h1v1h-1zM493 119h1v1h-1zM493 125h1v1h-1zM493 131h1v1h-1zM493 137h1v1h-1zM493 143h1v1h-1zM493 149h1v1h-1zM493 155h1v1h-1zM493 161h1v1h-1zM493 167h1v1h-1zM493 173h1v1h-1zM493 179h1v1h-1zM493 185h1v1h-1zM493 191h1v1h-1zM493 197h1v1h-1zM493 203h1v1h-1zM493 209h1v1h-1zM493 215h1v1h-1zM493 221h1v1h-1zM493 227h1v1h-1zM493 233h1v1h-1zM493 239h1v1h-1zM493 245h1v1h-1zM493 251h1v1h-1zM493 257h1v1h-1zM493 263h1v1h-1zM493 269h1v1h-1zM493 275h1v1h-1zM493 281h1v1h-1zM493 287h1v1h-1zM493 293h1v1h-1zM493 299h1v1h-1zM493 305h1v1h-1zM493 311h1v1h-1zM493 317h1v1h-1zM493 323h1v1h-1zM493 329h1v1h-1zM493 335h1v1h-1zM493 341h1v1h-1zM493 347h1v1h-1zM493 353h1v1h-1zM493 359h1v1h-1zM493 365h1v1h-1zM493 371h1v1h-1zM493 377h1v1h-1zM493 383h1v1h-1zM493 389h1v1h-1zM493 395h1v1h-1zM493 401h1v1h-1zM493 407h1v1h-1zM493 413h1v1h-1zM493 419h1v1h-1zM493 425h1v1h-1zM493 431h1v1h-1zM493 437h1v1h-1zM493 443h1v1h-1zM493 449h1v1h-1zM493 455h1v1h-1zM493 461h1v1h-1zM493 467h1v1h-1zM493 473h1v1h-1z"/>
<path d="M495 47h1v1h-1zM495 53h1v1h-1zM495 59h1v1h-1zM495 65h1v1h-1zM495 71h1v1h-1zM495 77h1v1h-1zM495 83h1v1h-1zM495 89h1v1h-1zM495 95h1v1h-1zM495 101h1v1h-1zM495 107h1v1h-1zM495 113h1v1h-1zM495 119h1v1h-1zM495 125h1v1h-1zM495 131h1v1h-1zM495 137h1v1h-1zM495 143h1v1h-1zM495 149h1v1h-1zM495 155h1v1h-1zM495 161h1v1h-1zM495 167h1v1h-1zM495 173h1v1h-1zM495 179h1v1h-1zM495 185h1v1h-1zM495 191h1v1h-1zM495 197h1v1h-1zM495 203h1v1h-1zM495 209h1v1h-1zM495 215h1v1h-1zM495 221h1v1h-1zM495 227h1v1h-1zM495 233h1v1h-1zM495 239h1v1h-1zM495 245h1v1h-1zM495 251h1v1h-1zM495 257h1v1h-1zM495 263h1v1h-1zM495 269h1v1h-1zM495 275h1v1h-1zM495 281h1v1h-1zM495 287h1v1h-1zM495 293h1v1h-1zM495 299h1v1h-1zM495 305h1v1h-1zM495 311h1v1h-1zM495 317h1v1h-1zM495 323h1v1h-1zM495 329h1v1h-1zM495 335h1v1h-1zM495 341h1v1h-1zM495 347h1v1h-1zM495 353h1v1h-1zM495 359h1v1h-1zM495 365h1v1h-1zM495 371h1v1h-1zM495 377h1v1h-1zM495 383h1v1h-1zM495 389h1v1h-1zM495 395h1v1h-1zM495 401h1v1h-1zM495 407h1v1h-1zM495 413h1v1h-1zM495 419h1v1h-1zM495 425h1v1h-1zM495 431h1v1h-1zM495 437h1v1h-1zM495 443h1v1h-1zM495 449h1v1h-1zM495 455h1v1h-1zM495 461h1v1h-1zM495 467h1v1h-1zM495 473h1v1h-1z"/>
<path d="M606 47h1v1h-1zM606 53h1v1h-1zM606 59h1v1h-1zM606 65h1v1h-1zM606 71h1v1h-1zM606 77h1v1h-1zM606 83h1v1h-1zM606 89h1v1h-1zM606 95h1v1h-1zM606 101h1v1h-1zM606 107h1v1h-1zM606 113h1v1h-1zM606 119h1v1h-1zM606 125h1v1h-1zM606 131h1v1h-1zM606 137h1v1h-1zM606 143h1v1h-1zM606 149h1v1h-1zM606 155h1v1h-1zM606 161h1v1h-1zM606 167h1v1h-1zM606 173h1v1h-1zM606 179h1v1h-1zM606 185h1v1h-1zM606 191h1v1h-1zM606 197h1v1h-1zM606 203h1v1h-1zM606 209h1v1h-1zM606 215h1v1h-1zM606 221h1v1h-1zM606 227h1v1h-1zM606 233h1v1h-1zM606 239h1v1h-1zM606 245h1v1h-1zM606 251h1v1h-1zM606 257h1v1h-1zM606 263h1v1h-1zM606 269h1v1h-1zM606 275h1v1h-1zM606 281h1v1h-1zM606 287h1v1h-1zM606 293h1v1h-1zM606 299h1v1h-1zM606 305h1v1h-1zM606 311h1v1h-1zM606 317h1v1h-1zM606 323h1v1h-1zM606 329h1v1h-1zM606 335h1v1h-1zM606 341h1v1h-1zM606 347h1v1h-1zM606 353h1v1h-1zM606 359h1v1h-1zM606 365h1v1h-1zM606 371h1v1h-1zM606 377h1v1h-1zM606 383h1v1h-1zM606 389h1v1h-1zM606 395h1v1h-1zM606 401h1v1h-1zM606 407h1v1h-1zM606 413h1v1h-1zM606 419h1v1h-1zM606 425h1v1h-1zM606 431h1v1h-1zM606 437h1v1h-1zM606 443h1v1h-1zM606 449h1v1h-1zM606 455h1v1h-1zM606 461h1v1h-1zM606 467h1v1h-1zM606 473h1v1h-1z"/>
<path d="M655 47h1v1h-1zM655 53h1v1h-1zM655 59h1v1h-1zM655 65h1v1h-1zM655 71h1v1h-1zM655 77h1v1h-1zM655 83h1v1h-1zM655 89h1v1h-1zM655 95h1v1h-1zM655 101h1v1h-1zM655 107h1v1h-1zM655 113h1v1h-1zM655 119h1v1h-1zM655 125h1v1h-1zM655 131h1v1h-1zM655 137h1v1h-1zM655 143h1v1h-1zM655 149h1v1h-1zM655 155h1v1h-1zM655 161h1v1h-1zM655 167h1v1h-1zM655 173h1v1h-1zM655 179h1v1h-1zM655 185h1v1h-1zM655 191h1v1h-1zM655 197h1v1h-1zM655 203h1v1h-1zM655 209h1v1h-1zM655 215h1v1h-1zM655 221h1v1h-1zM655 227h1v1h-1zM655 233h1v1h-1zM655 239h1v1h-1zM655 245h1v1h-1zM655 251h1v1h-1zM655 257h1v1h-1zM655 263h1v1h-1zM655 269h1v1h-1zM655 275h1v1h-1zM655 281h1v1h-1zM655 287h1v1h-1zM655 293h1v1h-1zM655 299h1v1h-1zM655 305h1v1h-1zM655 311h1v1h-1zM655 317h1v1h-1zM655 323h1v1h-1zM655 329h1v1h-1zM655 335h1v1h-1zM655 341h1v1h-1zM655 347h1v1h-1zM655 353h1v1h-1zM655 359h1v1h-1zM655 365h1v1h-1zM655 371h1v1h-1zM655 377h1v1h-1zM655 383h1v1h-1zM655 389h1v1h-1zM655 395h1v1h-1zM655 401h1v1h-1zM655 407h1v1h-1zM655 413h1v1h-1zM655 419h1v1h-1zM655 425h1v1h-1zM655 431h1v1h-1zM655 437h1v1h-1zM655 443h1v1h-1zM655 449h1v1h-1zM655 455h1v1h-1zM655 461h1v1h-1zM655 467h1v1h-1zM655 473h1v1h-1z"/>
</g>
</svg></body></html>
